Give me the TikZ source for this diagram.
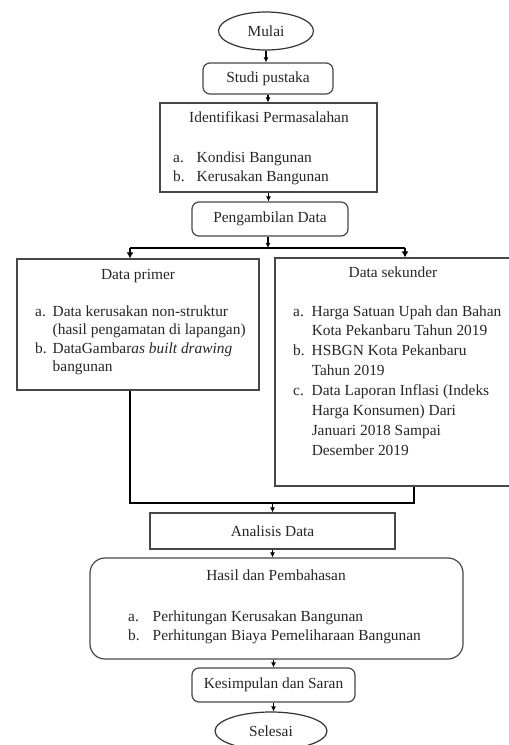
\documentclass[tikz,border=0pt]{standalone}
\usepackage{fontspec}
\setmainfont{Liberation Serif}
\usetikzlibrary{shapes.geometric,arrows.meta}
\begin{document}
\begin{tikzpicture}[x=1pt,y=-1pt,
  every node/.style={font=\fontsize{15.4}{19.5}\selectfont, text=black!85, inner sep=0pt},
  box/.style={draw=black!72, line width=1.2pt},
  rbox/.style={box, rounded corners=7pt},
  bigrbox/.style={box, rounded corners=15pt},
  term/.style={draw=black!80, line width=1.2pt, ellipse},
  arr/.style={line width=1.2pt, -{Latex[length=5pt,width=5pt]}},
  bus/.style={line width=2.6pt, black},
  busarr/.style={bus, -{Latex[length=6pt,width=7pt]}},
  lst/.style={anchor=base west}
]
\useasboundingbox (0,0) rectangle (509,745);

% main boxes
\node[term, minimum width=95pt, minimum height=38pt] (mulai) at (266,31) {Mulai};
\node[rbox, minimum width=130pt, minimum height=31pt] (studi) at (268,78.5) {Studi pustaka};
\node[box, minimum width=217pt, minimum height=89pt] (ident) at (268.5,147.5) {};
\node[rbox, minimum width=156pt, minimum height=34pt] (peng) at (270,219) {Pengambilan Data};
\node[box, minimum width=242pt, minimum height=131pt] (prim) at (138,324.5) {};
\node[box, minimum width=240pt, minimum height=228pt] (sek) at (395,372) {};
\node[box, minimum width=245pt, minimum height=36pt] (anal) at (272.5,531) {Analisis Data};
\node[bigrbox, minimum width=373pt, minimum height=101pt] (hasil) at (276.5,608.5) {};
\node[rbox, minimum width=163pt, minimum height=34pt] (kes) at (273.5,685) {Kesimpulan dan Saran};
\node[term, minimum width=112pt, minimum height=38pt] (sel) at (271,731) {Selesai};

% texts inside boxes
\node[anchor=mid] (identT) at (269,120) {Identifikasi Permasalahan};
\node[lst] (identL) at (173,162) {\begin{tabular}[t]{@{}l@{\hspace{12pt}}l@{}}a. & Kondisi Bangunan\\ b. & Kerusakan Bangunan\end{tabular}};

\node[anchor=mid] (primT) at (138,277) {Data primer};
\node[lst, font=\fontsize{15.4}{18.5}\selectfont] (primL) at (35,316) {\begin{tabular}[t]{@{}l@{\hspace{6pt}}l@{}}a. & Data kerusakan non-struktur\\ & (hasil pengamatan di lapangan)\\ b. & DataGambar\textit{as built drawing}\\ & bangunan\end{tabular}};

\node[anchor=mid] (sekT) at (393,275) {Data sekunder};
\node[lst, font=\fontsize{15.4}{19.9}\selectfont] (sekL) at (293,316) {\begin{tabular}[t]{@{}l@{\hspace{7pt}}l@{}}a. & Harga Satuan Upah dan Bahan\\ & Kota Pekanbaru Tahun 2019\\ b. & HSBGN Kota Pekanbaru\\ & Tahun 2019\\ c. & Data Laporan Inflasi (Indeks\\ & Harga Konsumen) Dari\\ & Januari 2018 Sampai\\ & Desember 2019\end{tabular}};

\node[anchor=mid] (hasilT) at (276,578) {Hasil dan Pembahasan};
\node[lst] (hasilL) at (128,621) {\begin{tabular}[t]{@{}l@{\hspace{13pt}}l@{}}a. & Perhitungan Kerusakan Bangunan\\ b. & Perhitungan Biaya Pemeliharaan Bangunan\end{tabular}};

% connectors
\draw[arr] (mulai.south) -- (mulai.south |- studi.north);
\draw[arr] (studi.south) -- (studi.south |- ident.north);
\draw[arr] (ident.south) -- (ident.south |- peng.north);

\coordinate (jl) at (130,248);
\coordinate (jr) at (405,248);
\coordinate (jm) at (268,248);
\draw[arr] (jm |- peng.south) -- (jm);
\draw[bus] (jl) -- (jr);
\draw[busarr] (jl) -- (jl |- prim.north);
\draw[busarr] (jr) -- (jr |- sek.north);

\coordinate (bl) at (130,503);
\coordinate (br) at (414,503);
\draw[bus] (bl |- prim.south) -- (bl) -- (br) -- (br |- sek.south);
\draw[arr] (anal.north |- bl) -- (anal.north);

\draw[arr] (anal.south) -- (anal.south |- hasil.north);
\draw[arr] (kes.north |- hasil.south) -- (kes.north);
\draw[arr] (kes.south) -- (kes.south |- sel.north);
\end{tikzpicture}
\end{document}
